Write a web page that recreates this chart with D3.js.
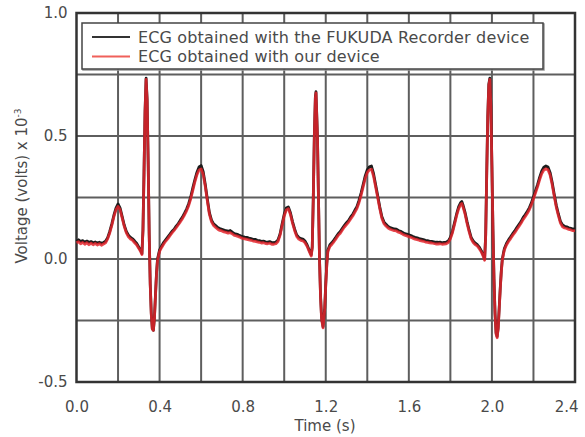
<!DOCTYPE html>
<html>
<head>
<meta charset="utf-8">
<script src="https://cdn.jsdelivr.net/npm/d3@7"></script>
<style>
  body { margin: 0; background: #fff; }
  svg { display: block; }
  text { font-family: "DejaVu Sans", sans-serif; fill: #4a4a4a; }
</style>
</head>
<body>
<svg id="chart" width="585" height="437"></svg>
<script>
// time stamps (s), shared by both recordings
const timeS = [
  0.00,0.01,0.02,0.03,0.04,0.05,0.06,0.07,0.08,0.09,0.10,0.11,0.12,0.13,0.14,0.15,0.16,0.17,0.18,0.19,
  0.20,0.21,0.22,0.23,0.24,0.25,0.26,0.27,0.28,0.29,0.30,0.31,0.315,0.32,0.325,0.33,0.335,0.34,0.345,0.35,
  0.355,0.36,0.365,0.37,0.375,0.38,0.385,0.39,0.40,0.41,0.42,0.43,0.44,0.45,0.46,0.47,0.48,0.49,0.50,0.51,
  0.52,0.53,0.54,0.55,0.56,0.57,0.58,0.59,0.60,0.61,0.62,0.63,0.64,0.65,0.66,0.67,0.68,0.69,0.70,0.71,
  0.72,0.73,0.74,0.75,0.76,0.77,0.78,0.79,0.80,0.81,0.82,0.83,0.84,0.85,0.86,0.87,0.88,0.89,0.90,0.91,
  0.92,0.93,0.94,0.95,0.96,0.97,0.98,0.99,1.00,1.01,1.02,1.03,1.04,1.05,1.06,1.07,1.08,1.09,1.10,1.11,
  1.12,1.13,1.135,1.14,1.145,1.15,1.153,1.16,1.165,1.17,1.175,1.18,1.187,1.195,1.20,1.205,1.21,1.22,1.23,1.24,
  1.25,1.26,1.27,1.28,1.29,1.30,1.31,1.32,1.33,1.34,1.35,1.36,1.37,1.38,1.39,1.40,1.41,1.42,1.43,1.44,
  1.45,1.46,1.47,1.48,1.49,1.50,1.51,1.52,1.53,1.54,1.55,1.56,1.57,1.58,1.59,1.60,1.61,1.62,1.63,1.64,
  1.65,1.66,1.67,1.68,1.69,1.70,1.71,1.72,1.73,1.74,1.75,1.76,1.77,1.78,1.79,1.80,1.81,1.82,1.83,1.84,
  1.85,1.855,1.86,1.87,1.88,1.89,1.90,1.91,1.92,1.93,1.94,1.95,1.96,1.965,1.97,1.975,1.98,1.985,1.99,1.995,
  2.00,2.005,2.01,2.015,2.02,2.025,2.03,2.035,2.04,2.045,2.05,2.055,2.06,2.07,2.08,2.09,2.10,2.11,2.12,2.13,
  2.14,2.15,2.16,2.17,2.18,2.19,2.20,2.21,2.22,2.23,2.24,2.25,2.26,2.27,2.28,2.29,2.30,2.31,2.32,2.33,
  2.34,2.35,2.36,2.37,2.38,2.39,2.40
];

// ECG from the FUKUDA recorder (x 1e-3 V)
const fukudaV = [
  0.072,0.078,0.071,0.075,0.069,0.073,0.068,0.071,0.066,0.069,0.065,0.068,0.064,0.067,0.072,0.087,0.112,0.143,0.178,0.207,
  0.224,0.207,0.172,0.137,0.112,0.097,0.088,0.082,0.073,0.063,0.048,0.033,0.022,0.12,0.35,0.60,0.735,0.65,0.40,0.10,
  -0.10,-0.22,-0.283,-0.29,-0.24,-0.15,-0.06,0.0,0.037,0.053,0.068,0.079,0.09,0.101,0.113,0.121,0.134,0.144,0.158,0.17,
  0.186,0.203,0.225,0.253,0.289,0.323,0.353,0.374,0.38,0.355,0.303,0.243,0.188,0.158,0.143,0.136,0.128,0.124,0.121,0.118,
  0.115,0.113,0.116,0.109,0.103,0.101,0.098,0.094,0.091,0.089,0.088,0.085,0.083,0.08,0.08,0.076,0.075,0.072,0.073,0.07,
  0.069,0.071,0.067,0.066,0.069,0.077,0.102,0.143,0.182,0.207,0.212,0.188,0.152,0.122,0.098,0.088,0.083,0.081,0.073,0.058,
  0.037,0.017,0.05,0.25,0.50,0.66,0.68,0.50,0.25,0.0,-0.15,-0.24,-0.275,-0.20,-0.10,-0.02,0.036,0.058,0.067,0.078,
  0.09,0.103,0.112,0.125,0.137,0.148,0.157,0.171,0.182,0.198,0.213,0.238,0.268,0.303,0.338,0.363,0.375,0.378,0.348,0.303,
  0.258,0.212,0.173,0.151,0.141,0.132,0.128,0.125,0.122,0.121,0.116,0.113,0.108,0.103,0.101,0.098,0.095,0.091,0.088,0.086,
  0.083,0.081,0.079,0.076,0.075,0.072,0.072,0.07,0.068,0.068,0.069,0.066,0.068,0.069,0.073,0.088,0.113,0.148,0.183,0.213,
  0.23,0.234,0.222,0.192,0.153,0.118,0.088,0.073,0.064,0.058,0.047,0.032,0.012,0.0,0.10,0.35,0.58,0.71,0.735,0.62,
  0.38,0.12,-0.08,-0.22,-0.30,-0.315,-0.28,-0.20,-0.12,-0.05,0.0,0.022,0.043,0.063,0.078,0.09,0.103,0.114,0.128,0.14,
  0.152,0.168,0.18,0.193,0.208,0.228,0.253,0.278,0.303,0.333,0.358,0.373,0.378,0.374,0.352,0.312,0.263,0.218,0.183,0.153,
  0.138,0.133,0.131,0.127,0.125,0.122,0.121
];

// ECG from our device (x 1e-3 V)
const deviceV = [
  0.066,0.07,0.062,0.067,0.06,0.066,0.058,0.064,0.058,0.063,0.057,0.062,0.056,0.061,0.066,0.082,0.106,0.137,0.172,0.2,
  0.214,0.2,0.166,0.132,0.106,0.09,0.081,0.076,0.066,0.057,0.043,0.028,0.018,0.115,0.345,0.595,0.73,0.645,0.395,0.095,
  -0.105,-0.225,-0.285,-0.29,-0.245,-0.155,-0.065,-0.005,0.031,0.047,0.061,0.073,0.083,0.095,0.106,0.116,0.127,0.139,0.151,0.164,
  0.179,0.196,0.217,0.245,0.279,0.314,0.343,0.362,0.366,0.344,0.295,0.236,0.181,0.151,0.136,0.128,0.121,0.116,0.114,0.11,
  0.108,0.105,0.107,0.102,0.096,0.094,0.091,0.087,0.084,0.082,0.08,0.078,0.076,0.073,0.072,0.07,0.068,0.065,0.066,0.063,
  0.062,0.064,0.06,0.06,0.062,0.071,0.096,0.136,0.175,0.199,0.204,0.181,0.146,0.116,0.092,0.081,0.076,0.074,0.066,0.052,
  0.032,0.012,0.045,0.245,0.495,0.655,0.675,0.495,0.245,-0.005,-0.155,-0.245,-0.28,-0.205,-0.105,-0.025,0.03,0.051,0.06,0.071,
  0.083,0.096,0.105,0.118,0.13,0.14,0.15,0.163,0.175,0.19,0.205,0.229,0.258,0.293,0.327,0.351,0.362,0.365,0.337,0.294,
  0.25,0.205,0.166,0.144,0.134,0.126,0.121,0.118,0.115,0.114,0.109,0.106,0.101,0.097,0.094,0.091,0.088,0.084,0.081,0.079,
  0.076,0.074,0.072,0.069,0.068,0.066,0.065,0.063,0.061,0.061,0.062,0.06,0.061,0.062,0.067,0.082,0.107,0.141,0.176,0.205,
  0.222,0.226,0.214,0.185,0.146,0.111,0.082,0.067,0.058,0.052,0.041,0.027,0.007,-0.005,0.095,0.345,0.575,0.705,0.73,0.615,
  0.375,0.115,-0.085,-0.225,-0.305,-0.32,-0.285,-0.205,-0.125,-0.055,-0.005,0.017,0.037,0.057,0.071,0.083,0.096,0.107,0.12,0.132,
  0.145,0.16,0.172,0.185,0.2,0.22,0.244,0.269,0.294,0.323,0.347,0.362,0.367,0.363,0.342,0.303,0.255,0.21,0.176,0.146,
  0.131,0.126,0.124,0.12,0.118,0.115,0.114
];

const xTicks = [0.0, 0.4, 0.8, 1.2, 1.6, 2.0, 2.4];
const yTicks = [-0.5, 0.0, 0.5, 1.0];
const xGrid = d3.range(0, 2.4001, 0.2);
const yGrid = [-0.25, 0.25, 0.75];

const seriesNames = [
  "ECG obtained with the FUKUDA Recorder device",
  "ECG obtained with our device"
];

const svg = d3.select("#chart");
const plot = { left: 76.5, right: 575, top: 13, bottom: 382 };

const x = d3.scaleLinear().domain([0, 2.4]).range([plot.left, plot.right]);
const y = d3.scaleLinear().domain([-0.5, 1.0]).range([plot.bottom, plot.top]);

// plain hyphen for negatives, like the original figure
const fmt = d => d.toFixed(1);

// grid
svg.append("g")
  .selectAll("line")
  .data(xGrid.slice(1, -1))
  .join("line")
  .attr("x1", d => x(d)).attr("x2", d => x(d))
  .attr("y1", plot.top).attr("y2", plot.bottom)
  .attr("stroke", "#5e5e5e").attr("stroke-width", 2);

svg.append("g")
  .selectAll("line")
  .data(yGrid.concat([0, 0.5]))
  .join("line")
  .attr("x1", plot.left).attr("x2", plot.right)
  .attr("y1", d => y(d)).attr("y2", d => y(d))
  .attr("stroke", "#5e5e5e").attr("stroke-width", 2);

// frame
svg.append("rect")
  .attr("x", plot.left).attr("y", plot.top)
  .attr("width", plot.right - plot.left).attr("height", plot.bottom - plot.top)
  .attr("fill", "none").attr("stroke", "#333").attr("stroke-width", 2.5);

// axes (labels only, the frame draws the lines)
const xAxis = svg.append("g")
  .attr("transform", `translate(0,${plot.bottom})`)
  .call(d3.axisBottom(x).tickValues(xTicks).tickFormat(fmt).tickSize(0).tickPadding(19));
const yAxis = svg.append("g")
  .attr("transform", `translate(${plot.left},0)`)
  .call(d3.axisLeft(y).tickValues(yTicks).tickFormat(fmt).tickSize(0).tickPadding(9));
[xAxis, yAxis].forEach(g => {
  g.select(".domain").remove();
  g.selectAll("text").attr("font-size", 15).attr("font-family", "DejaVu Sans").attr("fill", "#4a4a4a");
});
// last x label sits inside the page edge
xAxis.selectAll(".tick").filter(d => d === 2.4).select("text")
  .attr("text-anchor", "end").attr("dx", 3);

// titles
svg.append("text")
  .attr("x", 325).attr("y", 431)
  .attr("text-anchor", "middle").attr("font-size", 15)
  .text("Time (s)");

const yTitle = svg.append("text")
  .attr("transform", "translate(27,186) rotate(-90)")
  .attr("text-anchor", "middle").attr("font-size", 15);
yTitle.append("tspan").text("Voltage (volts) x 10");
yTitle.append("tspan").attr("dy", -6).attr("font-size", 9).text("-3");

// traces
const line = d3.line()
  .x((d, i) => x(timeS[i]))
  .y(d => y(d));

svg.append("path")
  .datum(fukudaV)
  .attr("d", line)
  .attr("fill", "none").attr("stroke", "#1c1c1c").attr("stroke-width", 2.8)
  .attr("stroke-linejoin", "round");

svg.append("path")
  .datum(deviceV)
  .attr("d", line)
  .attr("fill", "none").attr("stroke", "#e3242b").attr("stroke-width", 2.8)
  .attr("stroke-opacity", 0.85).attr("stroke-linejoin", "round");

// legend
const legend = svg.append("g");
legend.append("rect")
  .attr("x", 83).attr("y", 24).attr("width", 461).attr("height", 46)
  .attr("fill", "none").attr("stroke", "#999").attr("stroke-width", 1.5);
legend.append("rect")
  .attr("x", 82).attr("y", 23).attr("width", 461).attr("height", 46)
  .attr("fill", "#fff").attr("stroke", "#444").attr("stroke-width", 1.5);

const legendColors = ["#333", "#f0605a"];
seriesNames.forEach((name, i) => {
  const ly = 37 + i * 19.5;
  legend.append("line")
    .attr("x1", 92).attr("x2", 130).attr("y1", ly).attr("y2", ly)
    .attr("stroke", legendColors[i]).attr("stroke-width", 2);
  legend.append("text")
    .attr("x", 138).attr("y", ly + 5.5)
    .attr("font-size", 16)
    .attr("letter-spacing", 0.15)
    .text(name);
});
</script>
</body>
</html>
